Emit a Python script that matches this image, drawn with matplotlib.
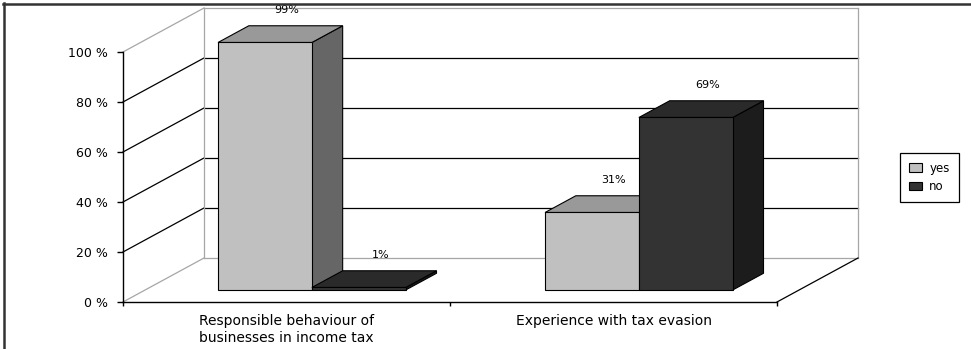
import matplotlib
matplotlib.use("Agg")
import matplotlib.pyplot as plt
from matplotlib.patches import Polygon, Patch
from matplotlib.lines import Line2D

# ---- data ----
categories = ["Responsible behaviour of\nbusinesses in income tax", "Experience with tax evasion"]
series_names = ["yes", "no"]
yes_values = [99, 31]
no_values = [1, 69]
y_ticks = [0, 20, 40, 60, 80, 100]
y_tick_labels = ["0 %", "20 %", "40 %", "60 %", "80 %", "100 %"]

# ---- style / layout ----
W, H = 971, 349
front_colors = {"yes": "#c0c0c0", "no": "#333333"}
top_colors = {"yes": "#999999", "no": "#2a2a2a"}
side_colors = {"yes": "#666666", "no": "#1c1c1c"}
GRAY = "#a6a6a6"

# oblique depth projection in data units (full depth of the plot)
DX = 81 / 327.0
DY = 17.6
Z_FRONT = 0.273
Z_DEPTH = 0.38
BAR_W = 0.287
BAR_BASE = {"yes": 0.223, "no": 0.510}

fig = plt.figure(figsize=(W / 100, H / 100), dpi=100)
fig.patch.set_facecolor("white")
ax = fig.add_axes([123 / W, (H - 302) / H, 654 / W, 250 / H])
ax.set_xlim(0, 2)
ax.set_ylim(0, 100)
ax.set_facecolor("none")

n = len(categories)
# back wall gridlines and side wall diagonals
for t in y_ticks:
    c = GRAY if t in (0, 100) else "black"
    ax.plot([DX, n + DX], [t + DY, t + DY], color=c, lw=0.9, clip_on=False, zorder=1)
    ax.plot([0, DX], [t, t + DY], color=c, lw=0.9, clip_on=False, zorder=1)
# back wall verticals
ax.plot([DX, DX], [DY, 100 + DY], color=GRAY, lw=0.9, clip_on=False, zorder=1)
ax.plot([n + DX, n + DX], [DY, 100 + DY], color=GRAY, lw=0.9, clip_on=False, zorder=1)
# floor right edge
ax.plot([n, n + DX], [0, DY], color="black", lw=0.9, clip_on=False, zorder=1)

values = {"yes": yes_values, "no": no_values}
zf_dx, zf_dy = Z_FRONT * DX, Z_FRONT * DY
dz_dx, dz_dy = Z_DEPTH * DX, Z_DEPTH * DY
z = 3
for i in range(n):
    for s in series_names:
        v = values[s][i]
        xl = i + BAR_BASE[s] + zf_dx
        xr = xl + BAR_W
        b = zf_dy
        top = b + v
        side = Polygon([(xr, b), (xr, top), (xr + dz_dx, top + dz_dy), (xr + dz_dx, b + dz_dy)],
                       closed=True, facecolor=side_colors[s], edgecolor="black", lw=0.8,
                       clip_on=False, zorder=z)
        ax.add_patch(side)
        tp = Polygon([(xl, top), (xr, top), (xr + dz_dx, top + dz_dy), (xl + dz_dx, top + dz_dy)],
                     closed=True, facecolor=top_colors[s], edgecolor="black", lw=0.8,
                     clip_on=False, zorder=z)
        ax.add_patch(tp)
        ax.bar(xl, v, width=BAR_W, bottom=b, align="edge", color=front_colors[s],
               edgecolor="black", lw=0.8, clip_on=False, zorder=z + 0.5)
        ax.text(xl + BAR_W / 2 + dz_dx / 2 + 0.02, top + dz_dy + 6.5, f"{v}%",
                ha="center", va="center", fontsize=8, color="black", zorder=10)
        z += 1

# axes styling
for sp in ("top", "right"):
    ax.spines[sp].set_visible(False)
for sp in ("left", "bottom"):
    ax.spines[sp].set_color("black")
    ax.spines[sp].set_linewidth(1.0)
    ax.spines[sp].set_zorder(2)
ax.set_yticks(y_ticks)
ax.set_yticklabels(y_tick_labels, fontsize=9)
ax.tick_params(axis="y", direction="out", length=4.3, width=1.0, pad=6.5, colors="black")
ax.set_xticks(range(n + 1))
ax.set_xticklabels([""] * (n + 1))
ax.tick_params(axis="x", which="major", direction="out", length=3, width=1.0)
ax.set_xticks([i + 0.5 for i in range(n)], minor=True)
ax.set_xticklabels(categories, minor=True, fontsize=10, linespacing=1.25)
ax.tick_params(axis="x", which="minor", length=0, pad=8.5)

# legend
handles = [Patch(facecolor=front_colors[s], edgecolor="black", lw=0.8) for s in series_names]
leg = fig.legend(handles, series_names, loc="center", bbox_to_anchor=(929.5 / W, 1 - 177.5 / H),
                 fontsize=8.5, frameon=True, fancybox=False, edgecolor="black", framealpha=1,
                 handlelength=1.1, handleheight=0.75, handletextpad=0.6, borderpad=0.75,
                 labelspacing=0.45, borderaxespad=0)
leg.get_frame().set_linewidth(0.9)

# outer chart frame (extends beyond the crop on right/bottom)
fig.add_artist(Line2D([3 / W, 1], [1 - 4 / H, 1 - 4 / H], transform=fig.transFigure,
                      color="#333333", lw=1.8))
fig.add_artist(Line2D([4 / W, 4 / W], [0, 1 - 3 / H], transform=fig.transFigure,
                      color="#333333", lw=1.8))

fig.savefig("out.png", dpi=100, facecolor="white")
